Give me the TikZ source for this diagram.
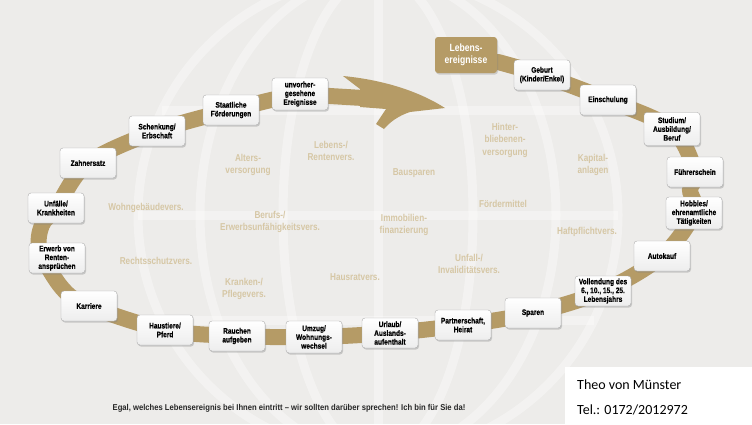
\documentclass[tikz,border=0pt]{standalone}
\usepackage{fontspec}
\setmainfont{Liberation Sans}
\newfontfamily\cf{Liberation Sans}[FakeStretch=0.82, BoldFont={Liberation Sans Bold}, BoldFeatures={FakeBold=0.6}]
\newfontfamily\cfl{Liberation Sans}[FakeStretch=0.82, BoldFont={Liberation Sans Bold}]
\newfontfamily\cfw{Liberation Sans}[FakeStretch=0.9, BoldFont={Liberation Sans Bold}]
\newfontfamily\calib{Carlito}
\usetikzlibrary{shadows}
\definecolor{gold}{RGB}{181,155,102}
\definecolor{beige}{RGB}{214,199,165}
\definecolor{bgc}{RGB}{237,236,234}
\pgfdeclarelayer{back}
\pgfdeclarelayer{bandlayer}
\pgfsetlayers{back,bandlayer,main}
\begin{document}
\begin{tikzpicture}[x=1pt,y=-1pt,
  ev/.style={draw=gray!65, rounded corners=3pt, top color=white, bottom color=gray!14,
    drop shadow={shadow xshift=1pt,shadow yshift=-1.5pt,opacity=0.35},
    minimum width=56pt, minimum height=30pt, align=center, inner sep=1pt,
    font=\cf\bfseries\fontsize{8}{8.8}\selectfont, text=black},
  lbl/.style={text=beige, align=center, inner sep=0pt,
    font=\cfl\bfseries\fontsize{10}{12.5}\selectfont},
  band/.style={gold, line width=16pt, line cap=round}]
\useasboundingbox (0,0) rectangle (752,424);
% events
\node[fill=gold, rounded corners=3pt, minimum width=62pt, minimum height=36pt, align=center,
  drop shadow={shadow xshift=1pt,shadow yshift=-1.5pt,opacity=0.3},
  text=white, font=\cfl\bfseries\fontsize{10.5}{12.5}\selectfont] (leb) at (466,55) {Lebens-\\ereignisse};
\node[ev] (geburt) at (542,75) {Geburt\\(Kinder/Enkel)};
\node[ev] (einsch) at (608,100) {Einschulung};
\node[ev, minimum height=33pt] (stud) at (672,129) {Studium/\\Ausbildung/\\Beruf};
\node[ev] (fuehr) at (695,172) {Führerschein};
\node[ev, minimum height=32pt] (hobby) at (694,213) {Hobbies/\\ehrenamtliche\\Tätigkeiten};
\node[ev] (auto) at (662,256) {Autokauf};
\node[ev] (vollend) at (603,291) {Vollendung des\\6., 10., 15., 25.\\Lebensjahrs};
\node[ev] (sparen) at (533,313) {Sparen};
\node[ev] (partner) at (463,325) {Partnerschaft,\\Heirat};
\node[ev] (urlaub) at (390,333) {Urlaub/\\Auslands-\\aufenthalt};
\node[ev, minimum height=32pt] (umzug) at (314,337) {Umzug/\\Wohnungs-\\wechsel};
\node[ev] (rauchen) at (237,336) {Rauchen\\aufgeben};
\node[ev] (haus) at (165,330) {Haustiere/\\Pferd};
\node[ev] (karriere) at (89,306) {Karriere};
\node[ev] (erwerb) at (57,258) {Erwerb von\\Renten-\\ansprüchen};
\node[ev] (unfaelle) at (56,208) {Unfälle/\\Krankheiten};
\node[ev] (zahn) at (88,163) {Zahnersatz};
\node[ev] (schenk) at (157,131) {Schenkung/\\Erbschaft};
\node[ev] (staat) at (231,110) {Staatliche\\Förderungen};
\node[ev, minimum height=32pt] (unvor) at (300,94) {unvorher-\\gesehene\\Ereignisse};
% waypoints of the band
\coordinate (w1) at (498,62);
\coordinate (w2) at (690,190);
\coordinate (w3) at (62,288);
\coordinate (w4) at (40,250);
\coordinate (w5) at (42,225);
\coordinate (shaftend) at (380,99);
\coordinate (tip) at (445,108);
% band
\begin{pgfonlayer}{bandlayer}
\draw[band] plot[smooth, tension=0.55] coordinates {(w1) (geburt) (einsch) (stud) (fuehr) (w2) (hobby) (auto) (vollend) (sparen) (partner) (urlaub) (umzug) (rauchen) (haus) (karriere) (w3) (w4) (w5) (unfaelle) (zahn) (schenk) (staat) (unvor) (330,96) (shaftend)};
\fill[gold] (343,76) .. controls (385,80) and (420,92) .. (tip)
  -- (410,112) .. controls (398,116) and (390,122) .. (384,129)
  -- (376,124) -- (386,109) -- (360,107) -- (360,89) -- cycle;
\end{pgfonlayer}
% background globe
\begin{pgfonlayer}{back}
\fill[bgc] (0,0) rectangle (752,424);
\begin{scope}[white, line width=9pt, opacity=0.35]
\draw (378,215) circle (240);
\draw (378,215) ellipse [x radius=95, y radius=240];
\draw (378,215) ellipse [x radius=178, y radius=240];
\draw (378,-25) -- (378,455);
\draw (138,215) -- (618,215);
\draw (162,110) -- (594,110);
\draw (162,320) -- (594,320);
\end{scope}
\end{pgfonlayer}
% product labels
\node[lbl] (alters) at (248,165) {Alters-\\versorgung};
\node[lbl] (lebensv) at (331,151) {Lebens-/\\Rentenvers.};
\node[lbl] (wohn) at (146,208) {Wohngebäudevers.};
\node[lbl] (berufs) at (270,222) {Berufs-/\\Erwerbsunfähigkeitsvers.};
\node[lbl] (recht) at (156,261) {Rechtsschutzvers.};
\node[lbl] (kranken) at (244,289) {Kranken-/\\Pflegevers.};
\node[lbl] (hausrat) at (355,277) {Hausratvers.};
\node[lbl] (bau) at (414,173) {Bausparen};
\node[lbl] (immo) at (404,225) {Immobilien-\\finanzierung};
\node[lbl] (hinter) at (505,140) {Hinter-\\bliebenen-\\versorgung};
\node[lbl] (kapital) at (593,165) {Kapital-\\anlagen};
\node[lbl] (foerder) at (503,204) {Fördermittel};
\node[lbl] (haft) at (587,232) {Haftpflichtvers.};
\node[lbl] (unfall) at (469,264) {Unfall-/\\Invaliditätsvers.};
% footer
\node[font=\cfw\bfseries\fontsize{8.5}{10}\selectfont, text=black!85] (footer) at (289,408)
  {Egal, welches Lebensereignis bei Ihnen eintritt – wir sollten darüber sprechen! Ich bin für Sie da!};
\fill[white] (565,367) rectangle (752,424);
\node[anchor=west, align=left, inner sep=0pt, font=\calib\fontsize{14}{25}\selectfont] (contact) at (577,397)
  {Theo von Münster\\Tel.: 0172/2012972};
\end{tikzpicture}
\end{document}
